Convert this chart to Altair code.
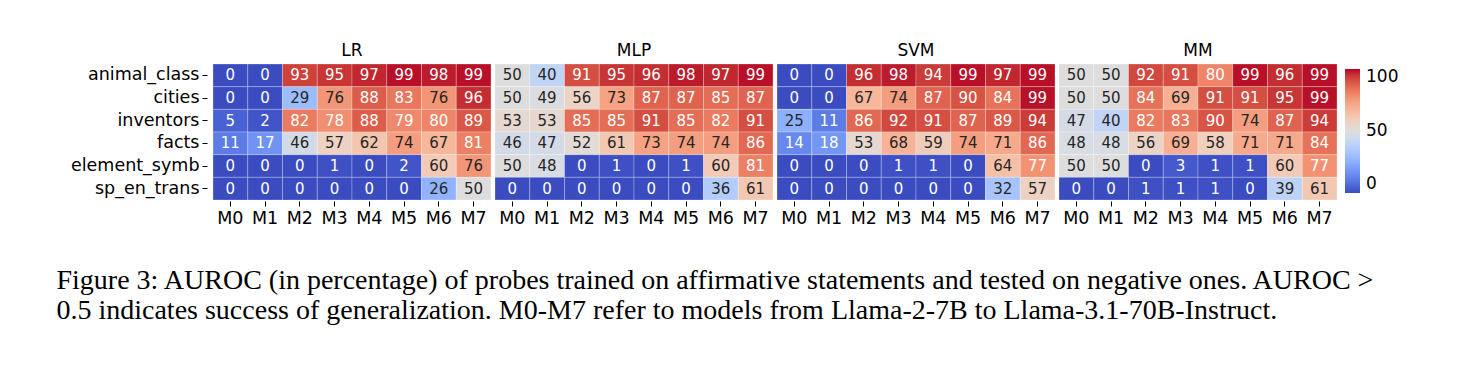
import altair as alt
import pandas as pd
import numpy as np

probes = ["LR", "MLP", "SVM", "MM"]
datasets = ["animal_class", "cities", "inventors", "facts", "element_symb", "sp_en_trans"]
models = ["M0", "M1", "M2", "M3", "M4", "M5", "M6", "M7"]

lr_values = [
    [0, 0, 93, 95, 97, 99, 98, 99],
    [0, 0, 29, 76, 88, 83, 76, 96],
    [5, 2, 82, 78, 88, 79, 80, 89],
    [11, 17, 46, 57, 62, 74, 67, 81],
    [0, 0, 0, 1, 0, 2, 60, 76],
    [0, 0, 0, 0, 0, 0, 26, 50],
]
mlp_values = [
    [50, 40, 91, 95, 96, 98, 97, 99],
    [50, 49, 56, 73, 87, 87, 85, 87],
    [53, 53, 85, 85, 91, 85, 82, 91],
    [46, 47, 52, 61, 73, 74, 74, 86],
    [50, 48, 0, 1, 0, 1, 60, 81],
    [0, 0, 0, 0, 0, 0, 36, 61],
]
svm_values = [
    [0, 0, 96, 98, 94, 99, 97, 99],
    [0, 0, 67, 74, 87, 90, 84, 99],
    [25, 11, 86, 92, 91, 87, 89, 94],
    [14, 18, 53, 68, 59, 74, 71, 86],
    [0, 0, 0, 1, 1, 0, 64, 77],
    [0, 0, 0, 0, 0, 0, 32, 57],
]
mm_values = [
    [50, 50, 92, 91, 80, 99, 96, 99],
    [50, 50, 84, 69, 91, 91, 95, 99],
    [47, 40, 82, 83, 90, 74, 87, 94],
    [48, 48, 56, 69, 58, 71, 71, 84],
    [50, 50, 0, 3, 1, 1, 60, 77],
    [0, 0, 1, 1, 1, 0, 39, 61],
]

# coolwarm colormap stops (Moreland)
coolwarm_rgb = [
    (59, 76, 192), (68, 90, 204), (77, 104, 215), (87, 117, 225), (98, 130, 234),
    (108, 142, 241), (119, 154, 247), (130, 165, 251), (141, 176, 254), (152, 185, 255),
    (163, 194, 255), (174, 201, 253), (184, 208, 249), (194, 213, 244), (204, 217, 238),
    (213, 219, 230), (221, 221, 221), (229, 216, 209), (236, 211, 197), (241, 204, 185),
    (245, 196, 173), (247, 187, 160), (247, 177, 148), (247, 166, 135), (244, 154, 123),
    (241, 141, 111), (236, 127, 99), (229, 112, 88), (222, 96, 77), (213, 80, 66),
    (203, 62, 56), (192, 40, 47), (180, 4, 38),
]
stop_domain = [i * 100 / (len(coolwarm_rgb) - 1) for i in range(len(coolwarm_rgb))]
stop_colors = ["#%02x%02x%02x" % c for c in coolwarm_rgb]

caption = [
    "Figure 3: AUROC (in percentage) of probes trained on affirmative statements and tested on negative ones. AUROC >",
    "0.5 indicates success of generalization. M0-M7 refer to models from Llama-2-7B to Llama-3.1-70B-Instruct.",
]

arr = np.array(coolwarm_rgb, dtype=float) / 255.0


def is_dark_text(v):
    rgb = [np.interp(v, stop_domain, arr[:, k]) for k in range(3)]
    lin = [c / 12.92 if c <= 0.04045 else ((c + 0.055) / 1.055) ** 2.4 for c in rgb]
    lum = 0.2126 * lin[0] + 0.7152 * lin[1] + 0.0722 * lin[2]
    return bool(lum > 0.408)


rows = []
for probe, table in zip(probes, [lr_values, mlp_values, svm_values, mm_values]):
    for ds, vals in zip(datasets, table):
        for m, v in zip(models, vals):
            rows.append({"probe": probe, "dataset": ds, "model": m, "auroc": v, "dark": is_dark_text(v)})
df = pd.DataFrame(rows)

x_enc = alt.X("model:N", sort=models, axis=alt.Axis(title=None, labelAngle=0))
y_enc = alt.Y("dataset:N", sort=datasets, axis=alt.Axis(title=None, offset=5))

rect = alt.Chart().mark_rect(stroke="white", strokeWidth=0.5, strokeOpacity=0.5).encode(
    x=x_enc,
    y=y_enc,
    color=alt.Color(
        "auroc:Q",
        scale=alt.Scale(domain=stop_domain, range=stop_colors, interpolate="rgb"),
        legend=alt.Legend(
            title=None,
            values=[0, 50, 100],
            gradientLength=124,
            gradientThickness=15,
            gradientStrokeWidth=0,
            labelFontSize=17,
            labelFont="DejaVu Sans",
            labelColor="black",
            labelOffset=6,
            offset=2,
            padding=5,
            direction="vertical",
        ),
    ),
)

text = alt.Chart().mark_text(fontSize=15, font="DejaVu Sans").encode(
    x=x_enc,
    y=y_enc,
    text=alt.Text("auroc:Q", format=".0f"),
    color=alt.condition("datum.dark", alt.value("#262626"), alt.value("white")),
)

chart = (
    alt.layer(rect, text, data=df)
    .properties(width=278, height=136)
    .facet(
        column=alt.Column(
            "probe:N",
            sort=probes,
            header=alt.Header(
                title=None,
                labelFontSize=17,
                labelFont="DejaVu Sans",
                labelColor="black",
                labelOrient="top",
                labelPadding=3,
            ),
        ),
        spacing=2,
    )
    .properties(
        title=alt.TitleParams(
            text=caption,
            orient="bottom",
            anchor="start",
            frame="bounds",
            font="Liberation Serif",
            fontSize=28,
            fontWeight="normal",
            color="black",
            lineHeight=30,
            offset=40,
            dx=-14,
        ),
        padding={"left": 48, "top": 34, "right": 5, "bottom": 5},
    )
    .configure_view(stroke=None)
    .configure_axis(
        labelFont="DejaVu Sans",
        labelFontSize=17.5,
        labelColor="black",
        tickColor="black",
        tickSize=5,
        tickWidth=1,
        domain=False,
        grid=False,
        labelPadding=3,
    )
)

chart.save("out.html", embed_options={"renderer": "svg", "actions": False})
